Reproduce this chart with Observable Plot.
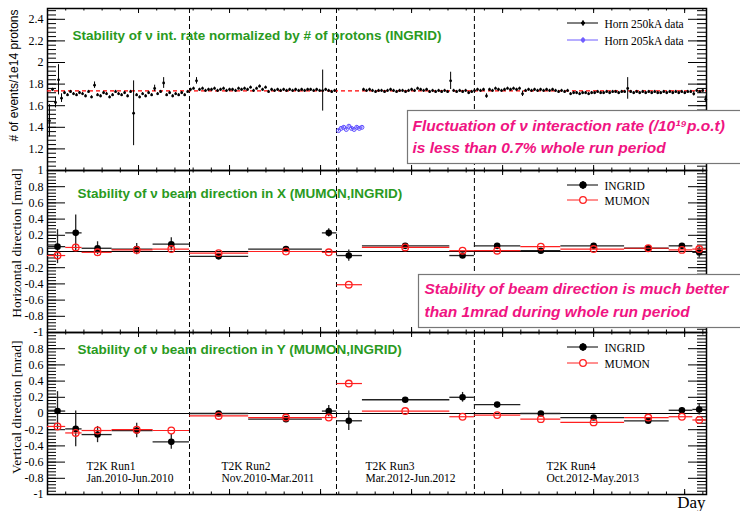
<!DOCTYPE html>
<html><head><meta charset="utf-8">
<script src="https://cdn.jsdelivr.net/npm/d3@7"></script>
<script src="https://cdn.jsdelivr.net/npm/@observablehq/plot@0.6"></script>
<style>
html,body{margin:0;padding:0;background:#fff;}
#chart{position:relative;width:740px;height:511px;overflow:hidden;background:#fff;}
#chart svg{position:absolute;left:0;overflow:visible;}
</style></head><body><div id="chart"></div>
<script>
// ---------- data ----------
const dayDomain = [0, 724];
const dayMajorTicks = [0, 100, 200, 300, 400, 500, 600, 700];
const rateTicks = [1, 1.2, 1.4, 1.6, 1.8, 2, 2.2, 2.4];
const dirTicks = [0.8, 0.6, 0.4, 0.2, 0, -0.2, -0.4, -0.6, -0.8, -1];
const runBoundaries = [156, 317.5, 469];

// panel 1: interaction rate per 1e14 protons
const rateStep = 3.3;
const rateRun1Start = 2.2;
const rateRun1 = [1.46,1.75,1.63,1.84,1.67,1.72,1.70,1.73,1.71,1.70,1.72,1.71,1.69,1.73,1.68,1.79,1.70,1.69,1.72,1.71,1.68,1.70,1.73,1.71,1.70,1.72,1.69,1.73,1.53,1.70,1.68,1.71,1.69,1.72,1.70,1.76,1.71,1.73,1.81,1.70,1.72,1.69,1.71,1.70,1.72,1.70,1.73];
const rateRun2Start = 157.1;
const rateRun2 = [1.75,1.76,1.83,1.75,1.76,1.74,1.75,1.75,1.76,1.74,1.75,1.76,1.74,1.75,1.75,1.74,1.76,1.75,1.76,1.75,1.77,1.74,1.76,1.78,1.75,1.77,1.73,1.75,1.74,1.75,1.74,1.75,1.74,1.75,1.74,1.75,1.74,1.75,1.74,1.75,1.75,1.74,1.75,1.74,1.74,1.75,1.74,1.73,1.74];
const rateRun3Start = 347.2;
const rateRun3 = [1.75,1.74,1.75,1.74,1.73,1.74,1.74,1.73,1.74,1.75,1.74,1.73,1.74,1.74,1.73,1.74,1.75,1.74,1.76,1.75,1.74,1.75,1.73,1.74,1.73,1.74,1.73,1.74,1.73,1.83,1.74,1.73,1.74,1.73,1.74,1.72,1.73];
const rateRun4Start = 469.1;
const rateRun4 = [1.74,1.75,1.74,1.75,1.69,1.75,1.74,1.76,1.75,1.74,1.75,1.76,1.75,1.76,1.75,1.76,1.71,1.74,1.75,1.74,1.75,1.74,1.75,1.74,1.75,1.74,1.75,1.74,1.73,1.74,1.73,1.74,1.71,1.72,1.72,1.71,1.72,1.72,1.71,1.72,1.72,1.73,1.72,1.72,1.73,1.72,1.73,1.73,1.72,1.73,1.73,1.76,1.73,1.72,1.73,1.72,1.73,1.72,1.73,1.72,1.73,1.72,1.72,1.73,1.72,1.73,1.72,1.73,1.72,1.73,1.72,1.73,1.73,1.71,1.74,1.73,1.74,1.66];
const rateErrDefault = 0.012;
const rateErrLarge = {
  run1: {0: 0.15, 2: 0.05, 3: 0.14, 4: 0.04, 15: 0.03, 28: 0.30, 35: 0.03, 38: 0.05},
  run2: {2: 0.03, 44: 0.19},
  run3: {29: 0.08},
  run4: {4: 0.02, 16: 0.025, 51: 0.10, 73: 0.02, 77: 0.03}
};
const horn205Start = 319.7;
const horn205Step = 2.86;
const horn205 = [1.37,1.39,1.40,1.38,1.41,1.39,1.38,1.40,1.39,1.40];
const rateFit = 1.738;

// panels 2 & 3: beam direction (bins in days)
const binCenter = [11, 31, 55, 98, 136, 188, 262, 309, 331, 393, 456, 494, 542, 600, 660, 697, 716];
const binLo     = [0, 20, 38, 71, 116, 156, 221, 302, 318, 346, 442, 469, 520, 564, 634, 683, 709];
const binHi     = [20, 38, 71, 116, 156, 221, 302, 318, 346, 442, 469, 520, 564, 634, 683, 709, 724];
const ingridX    = [0.06, 0.23, 0.04, 0.03, 0.09, -0.06, 0.03, 0.23, -0.05, 0.07, -0.05, 0.07, 0.01, 0.07, 0.04, 0.07, -0.01];
const ingridXErr = [0.21, 0.22, 0.08, 0.07, 0.08, 0.02, 0.02, 0.05, 0.07, 0.02, 0.02, 0.02, 0.02, 0.02, 0.02, 0.03, 0.07];
const mumonX     = [-0.05, 0.05, -0.01, 0.02, 0.03, -0.02, 0.0, -0.01, -0.41, 0.05, 0.01, 0.01, 0.06, 0.03, 0.04, 0.02, 0.03];
const ingridY    = [0.03, -0.19, -0.26, -0.21, -0.35, 0.0, -0.07, 0.03, -0.09, 0.17, 0.2, 0.11, 0.0, -0.05, -0.09, 0.04, 0.05];
const ingridYErr = [0.24, 0.22, 0.1, 0.09, 0.09, 0.02, 0.02, 0.07, 0.12, 0.02, 0.06, 0.02, 0.02, 0.02, 0.02, 0.03, 0.07];
const mumonY     = [-0.16, -0.24, -0.21, -0.2, -0.21, -0.03, -0.05, -0.05, 0.37, 0.03, -0.04, -0.02, -0.07, -0.11, -0.05, -0.04, -0.08];

// ---------- build tables ----------
function runTable(values, start, key) {
  return values.map((v, i) => ({day: start + i * rateStep, value: v, err: rateErrLarge[key][i] ?? rateErrDefault}));
}
const rate250 = [
  ...runTable(rateRun1, rateRun1Start, "run1"),
  ...runTable(rateRun2, rateRun2Start, "run2"),
  ...runTable(rateRun3, rateRun3Start, "run3"),
  ...runTable(rateRun4, rateRun4Start, "run4")
];
const rate205 = horn205.map((v, i) => ({day: horn205Start + i * horn205Step, value: v, err: rateErrDefault}));
const dirX = binCenter.map((c, i) => ({c, lo: binLo[i], hi: binHi[i], v: ingridX[i], e: ingridXErr[i], m: mumonX[i]}));
const dirY = binCenter.map((c, i) => ({c, lo: binLo[i], hi: binHi[i], v: ingridY[i], e: ingridYErr[i], m: mumonY[i]}));

// ---------- layout / style ----------
const SERIF = "Liberation Serif, Times New Roman, serif";
const SANS = "Liberation Sans, Arial, Helvetica, sans-serif";
const GREEN = "#2a9a1e";
const PINK = "#f01482";
const ML = 47, MR = 34, W = 740;
const FW = W - ML - MR, FH = 162;
const P1 = {top: 0, height: 175, mt: 8, mb: 5, domain: [1, 2.5]};
const P2 = {top: 165, height: 172, mt: 5, mb: 5, domain: [-1, 1]};
const P3 = {top: 327, height: 184, mt: 5, mb: 17, domain: [-1, 1]};
const dayMinor = d3.range(0, 725, 20);
const rateMinor = d3.range(0, 38).map(i => +(1 + i * 0.04).toFixed(2));
const dirMinor = d3.range(0, 51).map(i => +(-1 + i * 0.04).toFixed(2));
const fmt = d => String(Math.round(d * 10) / 10);
const chart = document.getElementById("chart");

function note(text, x, y, P, opts = {}) {
  return Plot.text([text], {text: d => d, frameAnchor: "top-left", dx: x - ML, dy: y - P.top - P.mt,
    textAnchor: "start", lineAnchor: "bottom", fill: "black", ...opts});
}
function box(x1, y1, y2, P) {
  const ft = P.top + P.mt;
  return Plot.frame({fill: "white", stroke: "#777", strokeWidth: 1.2,
    insetLeft: x1 - ML, insetRight: (ML + FW) - 770, insetTop: y1 - ft, insetBottom: (ft + FH) - y2});
}
function axesMarks(major, minor, labels) {
  return [
    Plot.ruleY(minor, {insetRight: FW - 9, stroke: "black"}),
    Plot.ruleY(minor, {insetLeft: FW - 9, stroke: "black"}),
    Plot.ruleY(major, {insetRight: FW - 18, stroke: "black"}),
    Plot.ruleY(major, {insetLeft: FW - 18, stroke: "black"}),
    Plot.ruleX(dayMinor, {insetBottom: FH - 2.5, stroke: "black"}),
    Plot.ruleX(dayMinor, {insetTop: FH - 2.5, stroke: "black"}),
    Plot.ruleX(dayMajorTicks, {insetBottom: FH - 5, stroke: "black"}),
    Plot.ruleX(dayMajorTicks, {insetTop: FH - 5, stroke: "black"}),
    Plot.ruleX(runBoundaries, {stroke: "black", strokeDasharray: "5,3"}),
    Plot.frame({stroke: "black", strokeWidth: 1.5}),
    Plot.axisY(labels, {anchor: "left", tickSize: 0, tickPadding: 4, tickFormat: fmt, label: null,
      fontFamily: SERIF, fontSize: 12})
  ];
}
function makePlot(P, marks) {
  const svg = Plot.plot({
    width: W, height: P.height, marginLeft: ML, marginRight: MR, marginTop: P.mt, marginBottom: P.mb,
    x: {domain: dayDomain, axis: null}, y: {domain: P.domain},
    style: {background: "transparent", overflow: "visible"},
    marks
  });
  svg.style.position = "absolute"; svg.style.top = P.top + "px"; svg.style.left = "0px";
  chart.appendChild(svg);
  return svg;
}
function legend(svg, P, items) {
  const g = d3.select(svg).append("g");
  for (const it of items) {
    const y = it.y - P.top;
    g.append("line").attr("x1", 567).attr("x2", 598).attr("y1", y).attr("y2", y).attr("stroke", it.color).attr("stroke-width", 1);
    if (it.bar) g.append("line").attr("x1", 583).attr("x2", 583).attr("y1", y - it.bar).attr("y2", y + it.bar).attr("stroke", it.color);
    g.append("circle").attr("cx", 583).attr("cy", y).attr("r", it.r).attr("fill", it.fill).attr("stroke", it.color).attr("stroke-width", it.sw || 1);
  }
}
const titleStyle = {fill: GREEN, fontFamily: SANS, fontWeight: "bold", fontSize: 13.5};
const pinkStyle = {fill: PINK, fontFamily: SANS, fontWeight: "bold", fontStyle: "italic", fontSize: 15.5};
const legStyle = {fontFamily: SERIF, fontSize: 11.5};

// ---------- panel 1 ----------
const svg1 = makePlot(P1, [
  ...axesMarks(rateTicks, rateMinor, rateTicks),
  Plot.ruleY([rateFit], {stroke: "red", strokeWidth: 1.2, strokeDasharray: "4,3"}),
  Plot.ruleX(rate250, {x: "day", y1: d => d.value - d.err, y2: d => d.value + d.err, stroke: "black"}),
  Plot.dot(rate250, {x: "day", y: "value", r: 1.4, fill: "black", stroke: null}),
  Plot.ruleX(rate205, {x: "day", y1: d => d.value - d.err, y2: d => d.value + d.err, stroke: "#5b4bff"}),
  Plot.dot(rate205, {x: "day", y: "value", r: 2, fill: "none", stroke: "#5b4bff", strokeWidth: 1}),
  note("Stability of ν int. rate normalized by # of protons (INGRID)", 72, 39, P1, titleStyle),
  note("# of events/1e14 protons", 17, 9, P1, {rotate: -90, textAnchor: "end", fontFamily: SANS, fontSize: 12}),
  note("Horn 250kA data", 604, 27, P1, legStyle),
  note("Horn 205kA data", 604, 44, P1, legStyle),
  box(407, 110, 163, P1),
  note("Fluctuation of ν interaction rate (/10¹⁹p.o.t)", 412, 130.5, P1, pinkStyle),
  note("is less than 0.7% whole run period", 412, 152.5, P1, pinkStyle)
]);
legend(svg1, P1, [
  {y: 23, color: "black", r: 1.5, fill: "black", bar: 3},
  {y: 40, color: "#6f5cff", r: 1.8, fill: "#6f5cff", bar: 3}
]);

// ---------- panels 2 & 3 ----------
function dirMarks(data) {
  return [
    Plot.ruleY([0], {stroke: "black"}),
    Plot.ruleY(data, {y: "v", x1: "lo", x2: "hi", stroke: "#222", strokeWidth: 1.3}),
    Plot.ruleX(data, {x: "c", y1: d => d.v - d.e, y2: d => d.v + d.e, stroke: "#222", strokeWidth: 1.3}),
    Plot.dot(data, {x: "c", y: "v", r: 3.3, fill: "black", stroke: null}),
    Plot.ruleY(data, {y: "m", x1: "lo", x2: "hi", stroke: "#ff2020", strokeWidth: 1.2}),
    Plot.dot(data, {x: "c", y: "m", r: 3.3, fill: "none", stroke: "#ff2020", strokeWidth: 1.3})
  ];
}
const svg2 = makePlot(P2, [
  ...axesMarks(dirTicks.concat([1]), dirMinor, dirTicks),
  ...dirMarks(dirX),
  note("Stability of ν beam direction in X (MUMON,INGRID)", 77, 197, P2, titleStyle),
  note("Horizontal direction [mrad]", 20, 168, P2, {rotate: -90, textAnchor: "end", fontFamily: SERIF, fontSize: 13.5}),
  note("INGRID", 604, 189, P2, legStyle),
  note("MUMON", 604, 204, P2, legStyle),
  box(418, 274, 327, P2),
  note("Stability of beam direction is much better", 424, 293.5, P2, pinkStyle),
  note("than 1mrad during whole run period", 424, 316.5, P2, pinkStyle)
]);
legend(svg2, P2, [
  {y: 185, color: "black", r: 3.3, fill: "black", bar: 4},
  {y: 200, color: "#ff2020", r: 3.3, fill: "white", sw: 1.3}
]);

const svg3 = makePlot(P3, [
  ...axesMarks(dirTicks.concat([1]), dirMinor, dirTicks),
  ...dirMarks(dirY),
  note("Stability of ν beam direction in Y (MUMON,INGRID)", 77, 353, P3, titleStyle),
  note("Vertical direction [mrad]", 20, 340, P3, {rotate: -90, textAnchor: "end", fontFamily: SERIF, fontSize: 13.5}),
  note("INGRID", 604, 351, P3, legStyle),
  note("MUMON", 604, 367, P3, legStyle),
  note("T2K Run1", 86, 469.5, P3, legStyle),
  note("Jan.2010-Jun.2010", 86, 481.5, P3, legStyle),
  note("T2K Run2", 221, 469.5, P3, legStyle),
  note("Nov.2010-Mar.2011", 221, 481.5, P3, legStyle),
  note("T2K Run3", 365, 469.5, P3, legStyle),
  note("Mar.2012-Jun.2012", 365, 481.5, P3, legStyle),
  note("T2K Run4", 546, 469.5, P3, legStyle),
  note("Oct.2012-May.2013", 546, 481.5, P3, legStyle),
  note("Day", 705, 507, P3, {textAnchor: "end", fontFamily: SERIF, fontSize: 17})
]);
legend(svg3, P3, [
  {y: 347, color: "black", r: 3.3, fill: "black", bar: 4},
  {y: 363, color: "#ff2020", r: 3.3, fill: "white", sw: 1.3}
]);
</script></body></html>
